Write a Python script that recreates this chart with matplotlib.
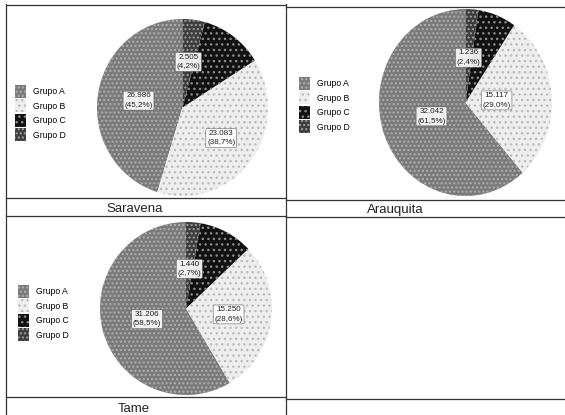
import numpy as np
import matplotlib
matplotlib.use("Agg")
import matplotlib.pyplot as plt
from matplotlib.lines import Line2D
from matplotlib.patches import Patch

W, H = 565, 415

groups = ["Grupo A", "Grupo B", "Grupo C", "Grupo D"]
municipios = ["Saravena", "Arauquita", "Tame"]
saravena = [26986, 23083, 7072, 2505]
arauquita = [32042, 15117, 3715, 1236]
tame = [31206, 15250, 5434, 1440]
series = [saravena, arauquita, tame]

# fill colours and stipple (hatch) per group
face = ["#7a7a7a", "#eeeeee", "#111111", "#3c3c3c"]
hatch_col = ["#b0b0b0", "#bdbdbd", "#8a8a8a", "#a0a0a0"]
hatches = ["....", "...", "...", "...."]

plt.rcParams["font.family"] = ["Liberation Sans", "DejaVu Sans"]
fig = plt.figure(figsize=(W / 100, H / 100), dpi=100)


def fx(x):
    return x / W


def fy(y):
    return 1 - y / H


def rect(x0, y0, x1, y1):
    return [fx(x0), fy(y1), fx(x1) - fx(x0), fy(y0) - fy(y1)]


def fmt_num(v):
    return f"{v:,}".replace(",", ".")


def fmt_pct(p):
    return f"({p:.1f}%)".replace(".", ",")


# pie extents (x0, y0, x1, y1) in pixels, legend anchors, label distances
pie_boxes = [(97, 19, 268, 196), (379, 9, 552, 196), (100, 222, 272, 395)]
legend_pos = [(9, 79), (293, 71), (12, 279)]
label_dist = [[0.52, 0.57, 0.0, 0.52], [0.42, 0.36, 0.0, 0.48], [0.47, 0.5, 0.0, 0.46]]
title_pos = [(135, 209), (395, 210), (134, 409)]

for vals, box, lpos, dists, tpos, name in zip(series, pie_boxes, legend_pos,
                                              label_dist, title_pos, municipios):
    ax = fig.add_axes(rect(*box))
    wedges, _ = ax.pie(vals, startangle=90, counterclock=True,
                       wedgeprops=dict(linewidth=0))
    for w, fc, hc, h in zip(wedges, face, hatch_col, hatches):
        w.set_facecolor(fc)
        w.set_edgecolor(hc)
        w.set_hatch(h)
        w.set_linewidth(0)
    ax.set_xlim(-1.0, 1.0)
    ax.set_ylim(-1.0, 1.0)
    ax.set_aspect("auto")
    total = sum(vals)
    for w, v, d in zip(wedges, vals, dists):
        if d == 0:
            continue
        ang = np.deg2rad((w.theta1 + w.theta2) / 2)
        ax.text(d * np.cos(ang), d * np.sin(ang),
                f"{fmt_num(v)}\n{fmt_pct(100 * v / total)}",
                ha="center", va="center", fontsize=5.8, linespacing=1.5,
                color="#222222",
                bbox=dict(boxstyle="round,pad=0.15", fc="white", ec="#555555",
                          lw=0.4, alpha=0.9))
    handles = [Patch(facecolor=fc, edgecolor=hc, hatch=h, linewidth=0)
               for fc, hc, h in zip(face, hatch_col, hatches)]
    fig.legend(handles, groups, loc="upper left",
               bbox_to_anchor=(fx(lpos[0]), fy(lpos[1])),
               frameon=False, fontsize=6.2, handlelength=1.3, handleheight=1.9,
               handletextpad=0.8, labelspacing=0.2, borderpad=0.2)
    fig.text(fx(tpos[0]), fy(tpos[1]), name, ha="center", va="center",
             fontsize=9.5, color="#222222")

# table rules
lines = [
    ((6, 6), (4, 415)),
    ((286, 286), (4, 415)),
    ((6, 286), (5, 5)),
    ((286, 565), (7, 7)),
    ((6, 286), (198, 198)),
    ((286, 565), (200, 200)),
    ((6, 286), (216, 216)),
    ((286, 565), (217, 217)),
    ((6, 286), (397, 397)),
    ((286, 565), (399, 399)),
]
for xs, ys in lines:
    fig.add_artist(Line2D([fx(xs[0]), fx(xs[1])], [fy(ys[0]), fy(ys[1])],
                          color="#333333", lw=0.9))

fig.savefig("out.png", dpi=100, facecolor="white")
